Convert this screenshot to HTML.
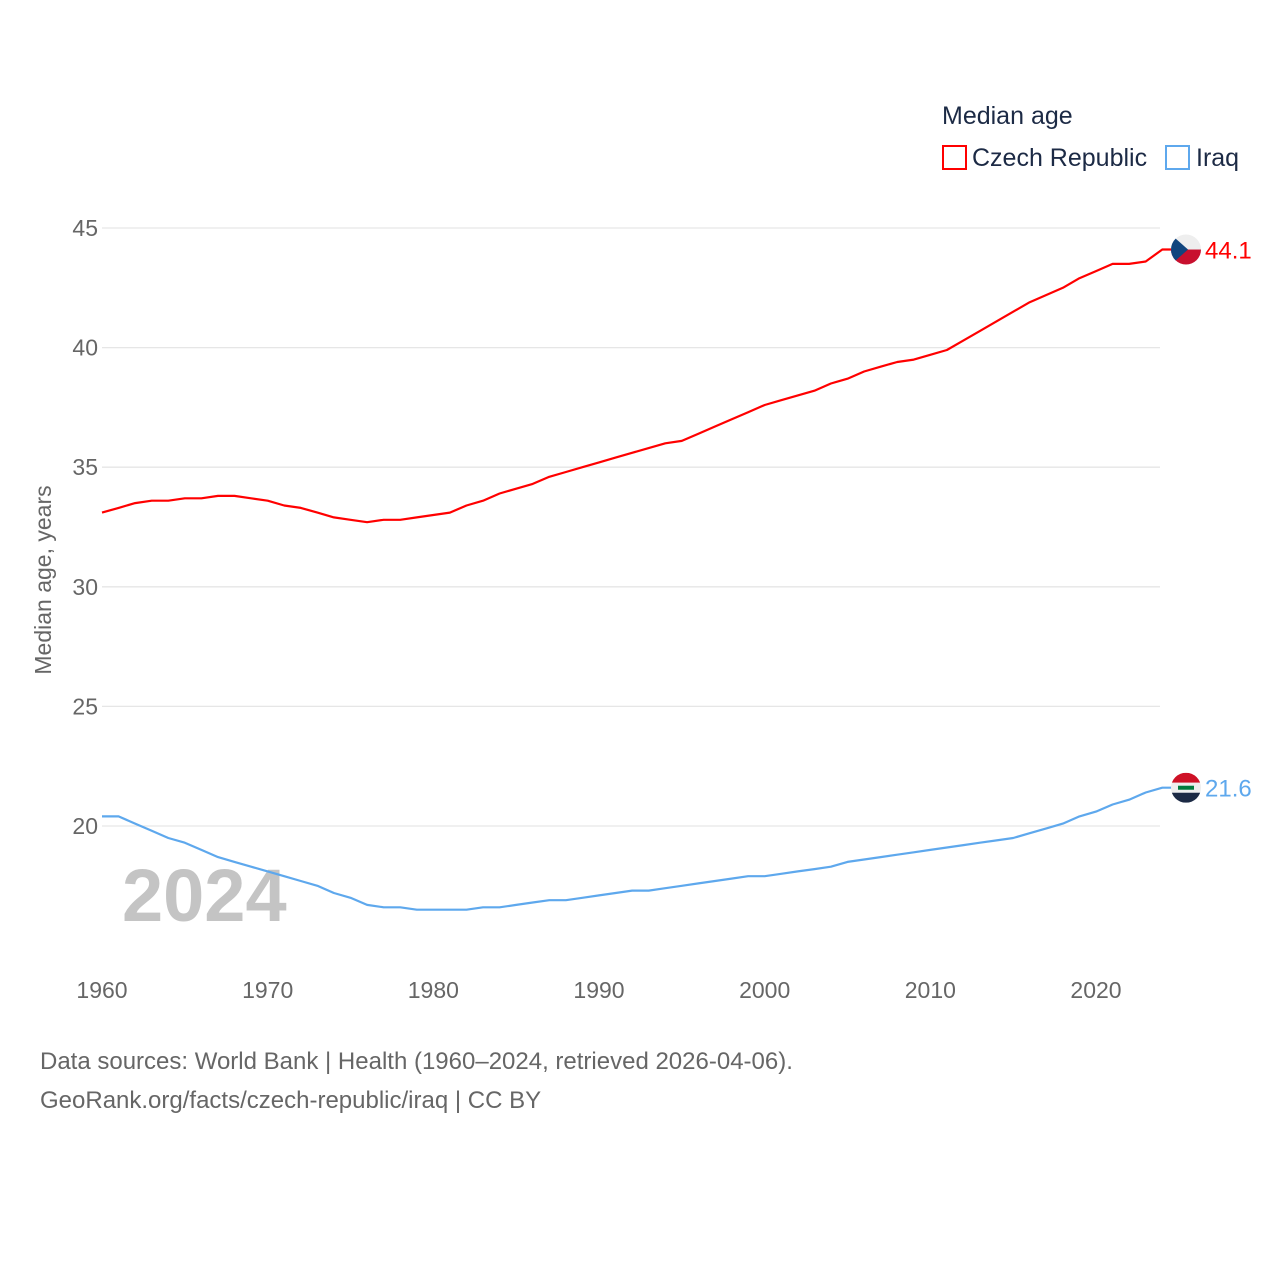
<!DOCTYPE html>
<html><head><meta charset="utf-8"><style>
body{margin:0;background:#fff;font-family:"Liberation Sans",sans-serif;}
</style></head><body>
<svg id="chart" width="1280" height="1280" xmlns="http://www.w3.org/2000/svg" font-family="Liberation Sans, sans-serif">
<g id="grid"></g>
<g id="yticks"></g>
<g id="xticks"></g>
<text x="122" y="921" font-size="74" font-weight="bold" fill="#c4c4c4">2024</text>
<text transform="translate(51,580) rotate(-90)" text-anchor="middle" font-size="23" fill="#666">Median age, years</text>
<g id="series"></g>
<text x="942" y="124" font-size="25" fill="#1c2a45">Median age</text>
<g><rect x="943" y="146" width="23" height="23" fill="none" stroke="#ff0000" stroke-width="2"/><text x="972" y="166" font-size="25" fill="#1c2a45">Czech Republic</text></g>
<g><rect x="1166" y="146" width="23" height="23" fill="none" stroke="#5ea8ed" stroke-width="2"/><text x="1196" y="166" font-size="25" fill="#1c2a45">Iraq</text></g>
<text x="40" y="1069" font-size="24" fill="#666">Data sources: World Bank | Health (1960–2024, retrieved 2026-04-06).</text>
<text x="40" y="1108" font-size="24" fill="#666">GeoRank.org/facts/czech-republic/iraq | CC BY</text>
</svg>
<script>
const years=[];for(let y=1960;y<=2024;y++)years.push(y);
const czech=[33.1,33.3,33.5,33.6,33.6,33.7,33.7,33.8,33.8,33.7,33.6,33.4,33.3,33.1,32.9,32.8,32.7,32.8,32.8,32.9,33.0,33.1,33.4,33.6,33.9,34.1,34.3,34.6,34.8,35.0,35.2,35.4,35.6,35.8,36.0,36.1,36.4,36.7,37.0,37.3,37.6,37.8,38.0,38.2,38.5,38.7,39.0,39.2,39.4,39.5,39.7,39.9,40.3,40.7,41.1,41.5,41.9,42.2,42.5,42.9,43.2,43.5,43.5,43.6,44.1];
const iraq=[20.4,20.4,20.1,19.8,19.5,19.3,19.0,18.7,18.5,18.3,18.1,17.9,17.7,17.5,17.2,17.0,16.7,16.6,16.6,16.5,16.5,16.5,16.5,16.6,16.6,16.7,16.8,16.9,16.9,17.0,17.1,17.2,17.3,17.3,17.4,17.5,17.6,17.7,17.8,17.9,17.9,18.0,18.1,18.2,18.3,18.5,18.6,18.7,18.8,18.9,19.0,19.1,19.2,19.3,19.4,19.5,19.7,19.9,20.1,20.4,20.6,20.9,21.1,21.4,21.6];
const yTicks=[20,25,30,35,40,45];
const xTicks=[1960,1970,1980,1990,2000,2010,2020];
const X=y=>102+(y-1960)*(1096-102)/60;
const Y=v=>826-(v-20)*(826-228)/25;
const NS="http://www.w3.org/2000/svg";
function mk(tag,attrs,parent,txt){const e=document.createElementNS(NS,tag);for(const k in attrs)e.setAttribute(k,attrs[k]);if(txt!==undefined)e.textContent=txt;parent.appendChild(e);return e;}
const grid=document.getElementById('grid'),yt=document.getElementById('yticks'),xt=document.getElementById('xticks'),ser=document.getElementById('series');
yTicks.forEach(v=>{
 const l=mk('line',{x1:102,x2:1160,y1:Y(v),y2:Y(v),stroke:'#e6e6e6','stroke-width':1.3},grid);
 
 
 const t=mk('text',{x:98,y:Y(v)+8,'text-anchor':'end','font-size':23,fill:'#666'},yt,String(v));
 
 
});
xTicks.forEach(v=>{
 const t=mk('text',{x:X(v),y:998,'text-anchor':'middle','font-size':23,fill:'#666'},xt,String(v));
 
 
});
function line(data,color,name){
 const d=data.map((v,i)=>(i?'L':'M')+X(years[i]).toFixed(1)+','+Y(v).toFixed(1)).join('')+'L'+(X(2024)+10)+','+Y(data[data.length-1]).toFixed(1);
 const p=mk('path',{d:d,fill:'none',stroke:color,'stroke-width':2.2,'stroke-linejoin':'round'},ser);
 
 
 const last=data[data.length-1],cy=Y(last);
 const g=mk('g',{},ser);
 
 
 if(name==='czech'){
  mk('clipPath',{id:'cc'},g);mk('circle',{cx:1186,cy:cy,r:15},g.lastChild);
  const gg=mk('g',{'clip-path':'url(#cc)'},g);
  mk('rect',{x:1171,y:cy-15,width:30,height:15,fill:'#eee'},gg);
  mk('rect',{x:1171,y:cy,width:30,height:15,fill:'#c8102e'},gg);
  mk('path',{d:`M1171,${cy-15}L1188,${cy}L1171,${cy+15}Z`,fill:'#11457e'},gg);
 }else{
  mk('clipPath',{id:'ci'},g);mk('circle',{cx:1186,cy:cy,r:15},g.lastChild);
  const gg=mk('g',{'clip-path':'url(#ci)'},g);
  mk('rect',{x:1171,y:cy-15,width:30,height:10,fill:'#ce1126'},gg);
  mk('rect',{x:1171,y:cy-5,width:30,height:10,fill:'#eee'},gg);
  mk('rect',{x:1171,y:cy+5,width:30,height:10,fill:'#1c2a45'},gg);
  mk('rect',{x:1178,y:cy-2,width:16,height:4,fill:'#007a3d'},gg);
 }
 const t=mk('text',{x:1205,y:cy+9,'font-size':24,fill:color},ser,last.toFixed(1));
 
 
}
line(czech,'#ff0000','czech');
line(iraq,'#5ea8ed','iraq');
</script>
</body></html>
